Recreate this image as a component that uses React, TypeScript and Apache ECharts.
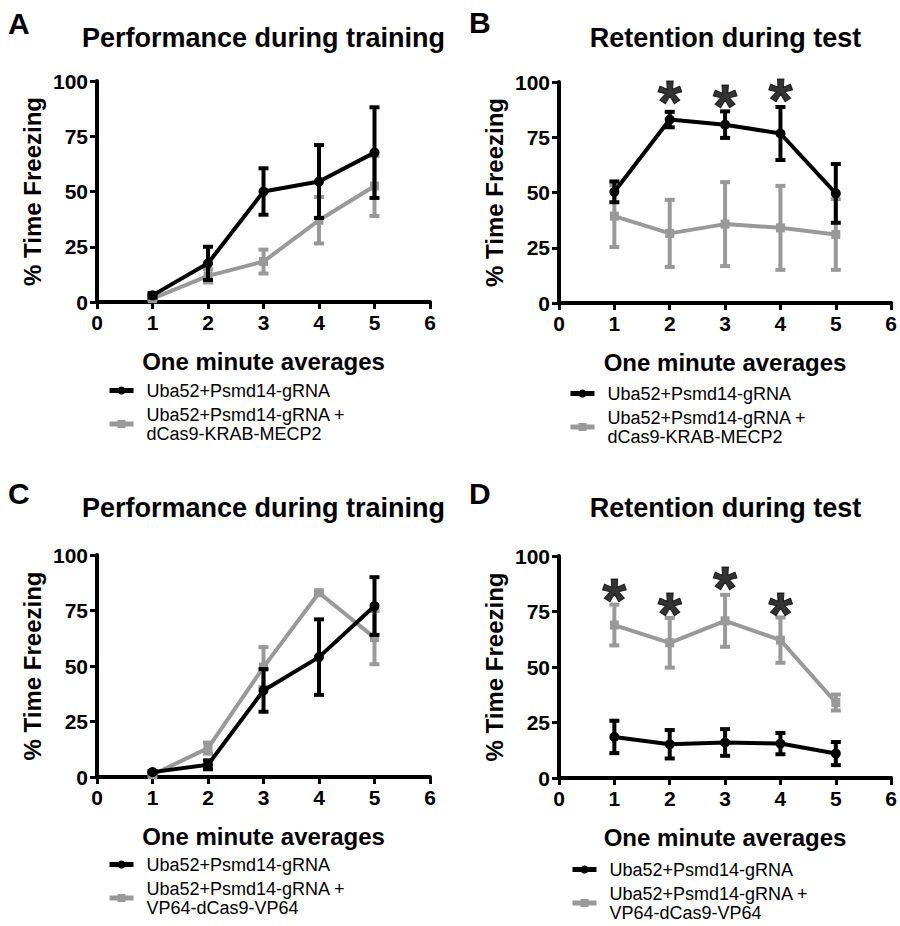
import React, { useEffect, useRef } from "react";
import * as echarts from "echarts";

const FONT = '"Liberation Sans", Arial, Helvetica, sans-serif';
const BLACK = "#000000";
const GRAY = "#999999";

const xValues = [1, 2, 3, 4, 5];
const xTicks = [0, 1, 2, 3, 4, 5, 6];
const yTicks = [0, 25, 50, 75, 100];

const nameBlack = "Uba52+Psmd14-gRNA";
const nameGrayKrab = "Uba52+Psmd14-gRNA +\ndCas9-KRAB-MECP2";
const nameGrayVp = "Uba52+Psmd14-gRNA +\nVP64-dCas9-VP64";

const titles = ["Performance during training", "Retention during test", "Performance during training", "Retention during test"];
const panelLetters = ["A", "B", "C", "D"];
const xName = "One minute averages";
const yName = "% Time Freezing";

// Panel A
const aBlackMean = [3, 17.5, 50, 54.5, 67.6];
const aBlackErr = [1, 7.5, 10.5, 16.5, 20.5];
const aGrayMean = [1.5, 11.8, 18.3, 37, 52.5];
const aGrayErr = [0.5, 3, 5.4, 10.5, 13.6];
// Panel B
const bBlackMean = [50.3, 83, 80.7, 76.7, 49.6];
const bBlackErr = [4.7, 3.5, 6, 12, 13.3];
const bGrayMean = [39.3, 31.5, 35.7, 34, 31];
const bGrayErr = [14, 15.2, 19, 19, 16];
const bStarX = [2, 3, 4];
const bStarY = [94.8, 93.2, 95.5];
// Panel C
const cBlackMean = [2.2, 5.5, 39, 54, 77];
const cBlackErr = [0.5, 2, 9.6, 17, 13];
const cGrayMean = [1, 13, 49.5, 83, 62.8];
const cGrayErr = [0.5, 2.5, 9, 1, 12];
// Panel D
const dBlackMean = [18.5, 15.2, 16, 15.5, 11];
const dBlackErr = [7.3, 6.4, 6, 4.8, 5.2];
const dGrayMean = [68.9, 60.9, 70.8, 62.1, 34];
const dGrayErr = [9.2, 11.2, 11.7, 10.2, 3.6];
const dStarX = [1, 2, 3, 4];
const dStarY = [84.2, 77.9, 89.2, 77.9];

const panels = [
  { black: aBlackMean, blackErr: aBlackErr, gray: aGrayMean, grayErr: aGrayErr, grayName: nameGrayKrab, starX: [] as number[], starY: [] as number[] },
  { black: bBlackMean, blackErr: bBlackErr, gray: bGrayMean, grayErr: bGrayErr, grayName: nameGrayKrab, starX: bStarX, starY: bStarY },
  { black: cBlackMean, blackErr: cBlackErr, gray: cGrayMean, grayErr: cGrayErr, grayName: nameGrayVp, starX: [] as number[], starY: [] as number[] },
  { black: dBlackMean, blackErr: dBlackErr, gray: dGrayMean, grayErr: dGrayErr, grayName: nameGrayVp, starX: dStarX, starY: dStarY },
];

// layout (pixels)
const grids = [
  { left: 97, top: 81, width: 333, height: 221 },
  { left: 559, top: 82, width: 333, height: 221 },
  { left: 97, top: 555, width: 333, height: 222 },
  { left: 559, top: 556, width: 333, height: 222 },
];
const legendPos = [
  { left: 107, top: 381 },
  { left: 568, top: 384 },
  { left: 107, top: 855 },
  { left: 570, top: 860 },
];
const letterPos = [
  { x: 8, y: 23 },
  { x: 469, y: 22 },
  { x: 8, y: 493 },
  { x: 469, y: 493 },
];
const titleY = [38, 38, 508, 508];

function errorSeries(gi: number, means: number[], errs: number[], color: string, z: number) {
  return {
    type: "custom",
    name: "err" + gi + color,
    xAxisIndex: gi,
    yAxisIndex: gi,
    z,
    silent: true,
    data: xValues.map((x, i) => [x, means[i] - errs[i], means[i] + errs[i]]),
    renderItem: (params: any, api: any) => {
      const lo = api.coord([api.value(0), api.value(1)]);
      const hi = api.coord([api.value(0), api.value(2)]);
      const hw = 5;
      const style = { stroke: color, lineWidth: 4, fill: "none" };
      return {
        type: "group",
        children: [
          { type: "line", shape: { x1: lo[0], y1: lo[1], x2: hi[0], y2: hi[1] }, style },
          { type: "line", shape: { x1: lo[0] - hw, y1: lo[1], x2: lo[0] + hw, y2: lo[1] }, style },
          { type: "line", shape: { x1: hi[0] - hw, y1: hi[1], x2: hi[0] + hw, y2: hi[1] }, style },
        ],
      };
    },
  };
}

export default function App() {
  const ref = useRef<HTMLDivElement>(null);
  useEffect(() => {
    if (!ref.current) return;
    const chart = echarts.init(ref.current, undefined, { renderer: "svg" });
    const series: any[] = [];
    panels.forEach((p, gi) => {
      series.push({
        type: "line",
        name: p.grayName,
        xAxisIndex: gi,
        yAxisIndex: gi,
        z: 2,
        data: xValues.map((x, i) => [x, p.gray[i]]),
        symbol: "rect",
        symbolSize: 9,
        lineStyle: { color: GRAY, width: 4 },
        itemStyle: { color: GRAY },
      });
      series.push(errorSeries(gi, p.gray, p.grayErr, GRAY, 2));
      series.push({
        type: "line",
        name: nameBlack,
        xAxisIndex: gi,
        yAxisIndex: gi,
        z: 3,
        data: xValues.map((x, i) => [x, p.black[i]]),
        symbol: "circle",
        symbolSize: 10,
        lineStyle: { color: BLACK, width: 4 },
        itemStyle: { color: BLACK },
      });
      series.push(errorSeries(gi, p.black, p.blackErr, BLACK, 3));
      if (p.starX.length) {
        series.push({
          type: "scatter",
          name: "stars" + gi,
          xAxisIndex: gi,
          yAxisIndex: gi,
          z: 4,
          symbolSize: 0,
          data: p.starX.map((x, i) => [x, p.starY[i]]),
          label: {
            show: true,
            position: "inside",
            formatter: "*",
            fontSize: 62,
            fontWeight: "bold",
            color: "#000",
            textBorderColor: "#000",
            textBorderWidth: 1,
            fontFamily: FONT,
            offset: [0, 8],
          },
        });
      }
    });

    const graphics: any[] = [];
    grids.forEach((g, gi) => {
      graphics.push({
        type: "text",
        x: letterPos[gi].x,
        y: letterPos[gi].y,
        style: { text: panelLetters[gi], font: `bold 30px ${FONT}`, fill: "#000", textVerticalAlign: "middle", textAlign: "left" },
      });
      graphics.push({
        type: "text",
        x: g.left + g.width / 2,
        y: titleY[gi],
        style: { text: titles[gi], font: `bold 27px ${FONT}`, fill: "#000", textVerticalAlign: "middle", textAlign: "center" },
      });
    });

    const option: any = {
      animation: false,
      backgroundColor: "#ffffff",
      textStyle: { fontFamily: FONT },
      grid: grids.map((g) => ({ ...g, containLabel: false })),
      xAxis: grids.map((g, gi) => ({
        type: "value",
        gridIndex: gi,
        min: xTicks[0],
        max: xTicks[xTicks.length - 1],
        interval: 1,
        name: xName,
        nameLocation: "middle",
        nameGap: 47,
        nameTextStyle: { fontSize: 24, fontWeight: "bold", color: "#000", fontFamily: FONT },
        axisLine: { show: true, lineStyle: { color: "#000", width: 4 } },
        axisTick: { show: true, length: 7, lineStyle: { color: "#000", width: 3 } },
        axisLabel: { fontSize: 21, fontWeight: "bold", color: "#000", margin: 10, fontFamily: FONT },
        splitLine: { show: false },
      })),
      yAxis: grids.map((g, gi) => ({
        type: "value",
        gridIndex: gi,
        min: yTicks[0],
        max: yTicks[yTicks.length - 1],
        interval: 25,
        name: yName,
        nameLocation: "middle",
        nameGap: 53,
        nameTextStyle: { fontSize: 24, fontWeight: "bold", color: "#000", fontFamily: FONT },
        axisLine: { show: true, lineStyle: { color: "#000", width: 4 } },
        axisTick: { show: true, length: 7, lineStyle: { color: "#000", width: 3 } },
        axisLabel: { fontSize: 21, fontWeight: "bold", color: "#000", margin: 9, fontFamily: FONT },
        splitLine: { show: false },
      })),
      legend: panels.map((p, gi) => ({
        orient: "vertical",
        left: legendPos[gi].left,
        top: legendPos[gi].top,
        width: 330,
        height: 120,
        padding: 0,
        itemWidth: 24,
        itemHeight: 10,
        itemGap: 5,
        selectedMode: false,
        data: [nameBlack, p.grayName],
        lineStyle: { width: 5 },
        textStyle: { fontSize: 18, lineHeight: 19, color: "#000", fontFamily: FONT, padding: [0, 0, 0, 8] },
      })),
      series,
      graphic: graphics,
    };
    chart.setOption(option);
    return () => chart.dispose();
  }, []);
  return (
    <div
      ref={ref}
      style={{ position: "fixed", left: 0, top: 0, width: 900, height: 926, background: "#fff" }}
    />
  );
}
